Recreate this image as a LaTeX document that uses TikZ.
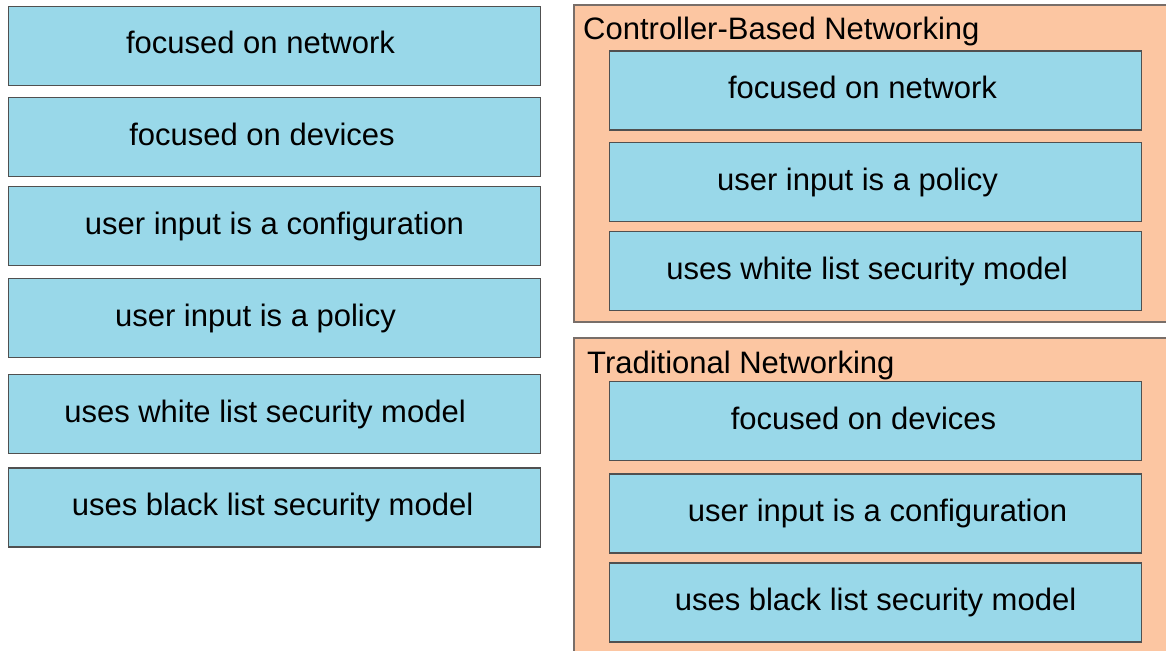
\documentclass[tikz,border=0pt]{standalone}
\usepackage{fontspec}
\setmainfont{Liberation Sans}
\definecolor{boxblue}{RGB}{153,216,233}
\definecolor{panelpeach}{RGB}{252,198,162}
\definecolor{edgegray}{RGB}{80,80,80}
\definecolor{paneledge}{RGB}{120,110,105}
\begin{document}
\begin{tikzpicture}[x=1pt,y=-1pt,
  itembox/.style={draw=edgegray,line width=1.8pt,fill=boxblue,minimum width=532pt,minimum height=79pt,inner sep=0pt,text height=22pt,text depth=6pt,font=\fontsize{31}{34}\selectfont,text=black},
  panelbox/.style={draw=paneledge,line width=1.4pt,fill=panelpeach},
  paneltitle/.style={anchor=base west,inner sep=0pt,font=\fontsize{31}{34}\selectfont}]
\useasboundingbox (0,0) rectangle (1166,650);
\fill[white] (0,0) rectangle (1166,650);
% left column
\node[itembox] (l1) at (274.5,46) {\hspace*{-28pt}focused on network};
\node[itembox] (l2) at (274.5,137) {\hspace*{-25pt}focused on devices};
\node[itembox] (l3) at (274.5,226) {user input is a configuration};
\node[itembox] (l4) at (274.5,318) {\hspace*{-38pt}user input is a policy};
\node[itembox] (l5) at (274.5,414) {\hspace*{-19pt}uses white list security model};
\node[itembox] (l6) at (274.5,507.5) {\hspace*{-4pt}uses black list security model};
% right panels
\draw[panelbox] (574,5) rectangle (1172,322);
\node[paneltitle] (t1) at (583,40) {Controller-Based Networking};
\node[itembox] (c1) at (875.5,90.5) {\hspace*{-26pt}focused on network};
\node[itembox] (c2) at (875.5,182) {\hspace*{-36pt}user input is a policy};
\node[itembox] (c3) at (875.5,271) {\hspace*{-17pt}uses white list security model};
\draw[panelbox] (574,338) rectangle (1172,656);
\node[paneltitle] (t2) at (587,373) {Traditional Networking};
\node[itembox] (d1) at (875.5,421) {\hspace*{-24pt}focused on devices};
\node[itembox] (d2) at (875.5,513.5) {\hspace*{4pt}user input is a configuration};
\node[itembox] (d3) at (875.5,602.5) {uses black list security model};
\end{tikzpicture}
\end{document}
